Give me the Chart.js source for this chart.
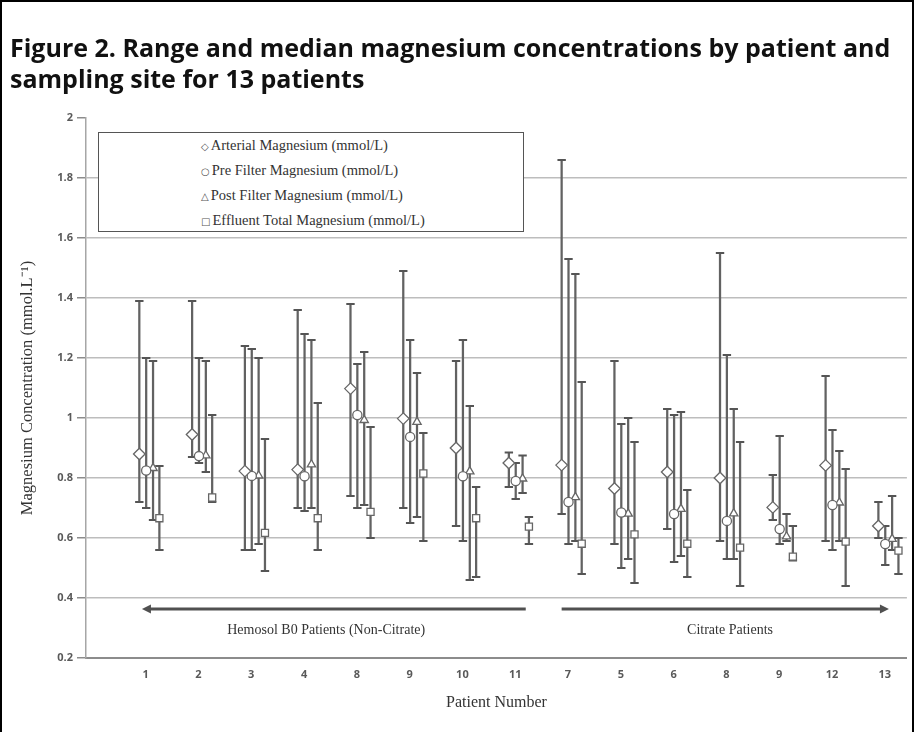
<!DOCTYPE html>
<html>
<head>
<meta charset="utf-8">
<script src="https://cdn.jsdelivr.net/npm/chart.js@4.4.0/dist/chart.umd.min.js"></script>
<style>
  html, body { margin: 0; padding: 0; background: #fff; }
  #wrap { position: relative; width: 914px; height: 732px; overflow: hidden; }
  #chart { position: absolute; left: 0; top: 0; }
  #frame { position: absolute; left: 0; top: 0; width: 910px; height: 740px; border: 2px solid #000; pointer-events: none; }
  #title { position: absolute; left: 10px; top: 32px; font: bold 25px "Open Sans"; line-height: 31px; color: #111; white-space: nowrap; }
  #legend { position: absolute; left: 98px; top: 132px; width: 424px; height: 98px; border: 1.5px solid #555; background: #fff;
            font: 14.5px "Liberation Serif"; color: #333; }
  #legend div { height: 25px; line-height: 25px; padding-left: 102px; white-space: nowrap; }
  #legend span { font: 10px "DejaVu Sans"; color: #555; margin-right: 2px; }
</style>
</head>
<body>
<div id="wrap">
  <canvas id="chart" width="914" height="732"></canvas>
  <div id="title">Figure 2. Range and median magnesium concentrations by patient and<br>sampling site for 13 patients</div>
  <div id="legend">
    <div><span>◇</span>Arterial Magnesium (mmol/L)</div>
    <div><span>○</span>Pre Filter Magnesium (mmol/L)</div>
    <div><span>△</span>Post Filter Magnesium (mmol/L)</div>
    <div><span>□</span>Effluent Total Magnesium (mmol/L)</div>
  </div>
  <div id="frame"></div>
</div>
<script>
// patient numbers, in the order they appear on the x axis
const patients = ["1", "2", "3", "4", "8", "9", "10", "11", "7", "5", "6", "8", "9", "12", "13"];

// median / min / max per sampling site (mmol/L)
const arterialMed = [0.88, 0.945, 0.823, 0.828, 1.098, 0.998, 0.9, 0.85, 0.843, 0.765, 0.82, 0.8, 0.702, 0.842, 0.64];
const arterialMin = [0.72, 0.87, 0.56, 0.70, 0.74, 0.70, 0.64, 0.77, 0.68, 0.58, 0.63, 0.59, 0.66, 0.59, 0.60];
const arterialMax = [1.39, 1.39, 1.24, 1.36, 1.38, 1.49, 1.19, 0.885, 1.86, 1.19, 1.03, 1.55, 0.81, 1.14, 0.72];

const preMed = [0.825, 0.873, 0.807, 0.806, 1.01, 0.937, 0.806, 0.79, 0.72, 0.685, 0.68, 0.657, 0.63, 0.71, 0.58];
const preMin = [0.70, 0.85, 0.56, 0.69, 0.70, 0.65, 0.59, 0.73, 0.58, 0.50, 0.52, 0.53, 0.58, 0.56, 0.51];
const preMax = [1.20, 1.20, 1.23, 1.28, 1.18, 1.26, 1.26, 0.85, 1.53, 0.98, 1.01, 1.21, 0.94, 0.96, 0.64];

const postMed = [0.833, 0.875, 0.808, 0.845, 0.993, 0.987, 0.822, 0.798, 0.736, 0.681, 0.697, 0.682, 0.605, 0.718, 0.597];
const postMin = [0.66, 0.82, 0.58, 0.70, 0.71, 0.67, 0.46, 0.75, 0.59, 0.53, 0.54, 0.53, 0.59, 0.59, 0.56];
const postMax = [1.19, 1.19, 1.20, 1.26, 1.22, 1.15, 1.04, 0.875, 1.48, 1.00, 1.02, 1.03, 0.68, 0.89, 0.74];

const effMed = [0.666, 0.735, 0.617, 0.666, 0.687, 0.815, 0.666, 0.638, 0.581, 0.612, 0.581, 0.568, 0.538, 0.588, 0.558];
const effMin = [0.56, 0.72, 0.49, 0.56, 0.60, 0.59, 0.47, 0.58, 0.48, 0.45, 0.47, 0.44, 0.525, 0.44, 0.48];
const effMax = [0.84, 1.01, 0.93, 1.05, 0.97, 0.95, 0.77, 0.67, 1.12, 0.92, 0.76, 0.92, 0.64, 0.83, 0.60];

const yTicks = [0.2, 0.4, 0.6, 0.8, 1, 1.2, 1.4, 1.6, 1.8, 2];

// drawing style per site: marker shape and sideways shift inside a patient group
const sites = [
  { med: arterialMed, lo: arterialMin, hi: arterialMax, shape: "rectRot", r: 5.8, shift: -0.12 },
  { med: preMed, lo: preMin, hi: preMax, shape: "circle", r: 4.6, shift: 0.01 },
  { med: postMed, lo: postMin, hi: postMax, shape: "triangle", r: 4.8, shift: 0.14 },
  { med: effMed, lo: effMin, hi: effMax, shape: "rect", r: 5, shift: 0.26 },
];

// annotation below the data: two arrows and group captions (data units)
const arrowLevel = 0.363;
const captionLevel = 0.293;
const groupArrows = [
  { from: 8.2, to: 0.93 },
  { from: 8.88, to: 15.08 },
];
const groupCaptions = [
  { text: "Hemosol B0 Patients (Non-Citrate)", at: 4.42 },
  { text: "Citrate Patients", at: 12.07 },
];

const ink = "#626262";
const datasets = [];
sites.forEach((s) => {
  datasets.push({
    type: "bar",
    data: patients.map((_, i) => ({ x: i + 1 + s.shift, y: [s.lo[i], s.hi[i]] })),
    backgroundColor: ink,
    barThickness: 1.6,
    grouped: false,
    order: 3,
  });
  const caps = [];
  patients.forEach((_, i) => {
    caps.push({ x: i + 1 + s.shift, y: s.lo[i] });
    caps.push({ x: i + 1 + s.shift, y: s.hi[i] });
  });
  datasets.push({
    type: "scatter",
    data: caps,
    pointStyle: "line",
    pointRadius: 4.2,
    borderColor: "#555",
    pointBorderWidth: 2,
    order: 2,
  });
  datasets.push({
    type: "scatter",
    data: patients.map((_, i) => ({ x: i + 1 + s.shift, y: s.med[i] })),
    pointStyle: s.shape,
    pointRadius: s.r,
    pointBackgroundColor: "#fff",
    pointBorderColor: "#666",
    pointBorderWidth: 1.3,
    order: 1,
  });
});

const groupNotes = {
  id: "groupNotes",
  afterDatasetsDraw(chart) {
    const { ctx, scales: { x, y } } = chart;
    const yy = y.getPixelForValue(arrowLevel);
    ctx.save();
    ctx.strokeStyle = "#505050";
    ctx.fillStyle = "#505050";
    ctx.lineWidth = 3;
    groupArrows.forEach((a) => {
      const x0 = x.getPixelForValue(a.from);
      const x1 = x.getPixelForValue(a.to);
      const dir = Math.sign(x1 - x0);
      ctx.beginPath();
      ctx.moveTo(x0, yy);
      ctx.lineTo(x1 - dir * 6, yy);
      ctx.stroke();
      ctx.beginPath();
      ctx.moveTo(x1, yy);
      ctx.lineTo(x1 - dir * 9, yy - 4.5);
      ctx.lineTo(x1 - dir * 9, yy + 4.5);
      ctx.closePath();
      ctx.fill();
    });
    ctx.fillStyle = "#333";
    ctx.font = '14px "Liberation Serif"';
    ctx.textAlign = "center";
    ctx.textBaseline = "middle";
    const cy = y.getPixelForValue(captionLevel);
    groupCaptions.forEach((c) => ctx.fillText(c.text, x.getPixelForValue(c.at), cy));
    ctx.restore();
  },
};

Chart.defaults.font.family = "Open Sans";

new Chart(document.getElementById("chart"), {
  type: "bar",
  data: { datasets },
  plugins: [groupNotes],
  options: {
    responsive: false,
    animation: false,
    layout: { padding: { top: 118, right: 5, bottom: 0, left: 0 } },
    plugins: { legend: { display: false }, tooltip: { enabled: false } },
    scales: {
      x: {
        type: "linear",
        min: -0.13,
        max: 15.42,
        offset: false,
        grid: { display: false },
        border: { display: true, color: "#8c8c8c", width: 2 },
        afterBuildTicks: (s) => { s.ticks = patients.map((_, i) => ({ value: i + 1 })); },
        afterFit: (s) => { s.height = 74; },
        ticks: {
          autoSkip: false,
          maxRotation: 0,
          padding: 2,
          color: "#595959",
          font: { size: 11, weight: "bold" },
          callback: (v) => patients[v - 1] ?? "",
        },
        title: {
          display: true,
          text: "Patient Number",
          color: "#333",
          font: { family: "Liberation Serif", size: 16 },
          padding: { top: 10, bottom: 20 },
        },
      },
      y: {
        min: 0.2,
        max: 2,
        afterBuildTicks: (s) => { s.ticks = yTicks.map((v) => ({ value: v })); },
        afterFit: (s) => { s.width = 86; },
        grid: {
          color: (c) => (c.tick && (c.tick.value >= 1.99 || c.tick.value <= 0.21) ? "rgba(0,0,0,0)" : "#bdbdbd"),
          lineWidth: 1.5,
          tickColor: "#8c8c8c",
          tickLength: 9,
        },
        border: { display: true, color: "#a6a6a6", width: 1.5 },
        ticks: {
          padding: 4,
          color: "#595959",
          font: { size: 11, weight: "bold" },
          callback: (v) => String(Math.round(v * 10) / 10),
        },
        title: {
          display: true,
          text: "Magnesium Concentration (mmol.L⁻¹)",
          color: "#333",
          font: { family: "Liberation Serif", size: 16.5 },
          padding: { top: 18, bottom: 0 },
        },
      },
    },
  },
});
</script>
</body>
</html>
